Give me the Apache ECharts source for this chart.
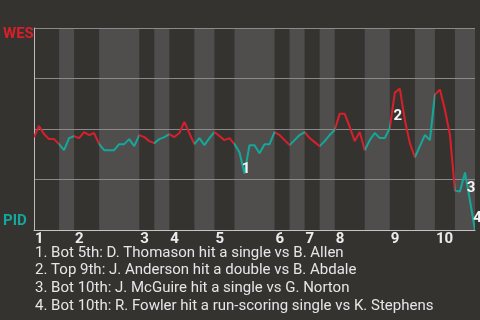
<!DOCTYPE html>
<html>
<head>
<meta charset="utf-8">
<script src="https://cdn.jsdelivr.net/npm/echarts@6/dist/echarts.min.js"></script>
<style>
html,body{margin:0;padding:0;background:#353330;}
#chart{width:480px;height:320px;}
</style>
</head>
<body>
<div id="chart"></div>
<script>
// ---- data ----
const teams = ['WES', 'PID'];
const innings = ['1','2','3','4','5','6','7','8','9','10'];
const inningStart = [0, 8, 21, 27, 36, 48, 54, 60, 71, 80];
// half-inning boundaries (plate-appearance index): top, bottom, top, bottom ...
const halfBounds = [0,5,8,13,21,24,27,32,36,40,48,51,54,57,60,66,71,76,80,84,88];
// WES win probability after each plate appearance
const wesProb = [
  0.46,0.515,0.475,0.45,0.45,0.425,
  0.395,0.455,0.465,
  0.455,0.485,0.47,0.48,0.425,
  0.395,0.395,0.395,0.425,0.425,0.45,0.415,0.47,
  0.46,0.44,0.43,
  0.45,0.46,0.475,
  0.46,0.48,0.535,0.48,0.425,
  0.455,0.42,0.455,0.485,
  0.465,0.445,0.455,0.425,
  0.385,0.28,0.42,0.42,0.38,0.425,0.425,0.485,
  0.47,0.445,0.42,
  0.445,0.47,0.485,
  0.455,0.435,0.415,
  0.44,0.47,0.495,
  0.575,0.575,0.51,0.44,0.485,0.395,
  0.445,0.48,0.455,0.455,0.505,
  0.68,0.70,0.545,0.43,0.36,
  0.415,0.47,0.445,0.67,
  0.695,0.595,0.47,0.195,
  0.19,0.285,0.145,0.0
];
const eventIdx = [42, 72, 86, 88];
const events = [
  '1. Bot 5th: D. Thomason hit a single vs B. Allen',
  '2. Top 9th: J. Anderson hit a double vs B. Abdale',
  '3. Bot 10th: J. McGuire hit a single vs G. Norton',
  '4. Bot 10th: R. Fowler hit a run-scoring single vs K. Stephens'
];

// ---- build ----
const RED = '#d91f2b', TEAL = '#13a89b';
const pieces = [];
const bands = [];
for (let h = 0; h < halfBounds.length - 1; h++) {
  const a = halfBounds[h], b = halfBounds[h + 1];
  if (h % 2 === 0) {
    pieces.push(h === 0 ? {gte: a, lte: b, color: RED} : {gt: a, lte: b, color: RED});
  } else {
    pieces.push({gt: a, lte: b, color: TEAL});
    bands.push([{xAxis: a}, {xAxis: b}]);
  }
}
const labelOffsets = [[1.5, -4], [3, 24], [6, 16], [2.5, -12]];
const markData = eventIdx.map((idx, k) => ({
  coord: [idx, wesProb[idx]],
  label: {formatter: String(k + 1), offset: labelOffsets[k]}
}));

const chart = echarts.init(document.getElementById('chart'), null, {renderer: 'canvas'});
chart.setOption({
  backgroundColor: '#353330',
  animation: false,
  grid: {left: 34, top: 28, width: 441, height: 202},
  xAxis: {
    type: 'value', min: 0, max: 88, z: 2,
    axisLine: {show: true, lineStyle: {color: '#c4c4c4', width: 1}},
    axisTick: {show: false},
    splitLine: {show: false},
    axisLabel: {
      customValues: inningStart,
      formatter: v => innings[inningStart.indexOf(v)],
      align: 'left', padding: [0, 0, 0, 1], margin: 2,
      color: '#ececec', fontSize: 15, fontWeight: 'bold', fontFamily: 'Roboto'
    }
  },
  yAxis: {
    type: 'value', min: 0, max: 1, interval: 0.25, z: 2,
    axisLine: {show: true, lineStyle: {color: '#bdbdbd', width: 1}},
    axisTick: {show: false},
    axisLabel: {show: false},
    splitLine: {show: true, lineStyle: {color: '#8a8a8a', width: 1}}
  },
  visualMap: {show: false, type: 'piecewise', dimension: 0, seriesIndex: 1, pieces: pieces},
  series: [
    {
      type: 'line', data: [], z: 1,
      markArea: {silent: true, z: 1, itemStyle: {color: '#4f4e4c'}, data: bands}
    },
    {
      type: 'line', z: 3,
      data: wesProb.map((v, i) => [i, v]),
      showSymbol: false,
      lineStyle: {width: 2},
      markPoint: {
        symbol: 'circle', symbolSize: 0, silent: true,
        label: {show: true, position: 'inside', color: '#f4f4f4', fontSize: 15, fontWeight: 'bold', fontFamily: 'Roboto'},
        data: markData
      }
    }
  ],
  graphic: [
    {type: 'text', left: 3, top: 27, style: {text: teams[0], fill: RED, font: 'bold 15px Roboto'}},
    {type: 'text', left: 3, top: 214, style: {text: teams[1], fill: TEAL, font: 'bold 15px Roboto'}},
    {type: 'text', left: 35, top: 244, style: {text: events.join('\n'), fill: '#e6e6e6', font: '15px Roboto', lineHeight: 17.8}}
  ]
});
</script>
</body>
</html>
